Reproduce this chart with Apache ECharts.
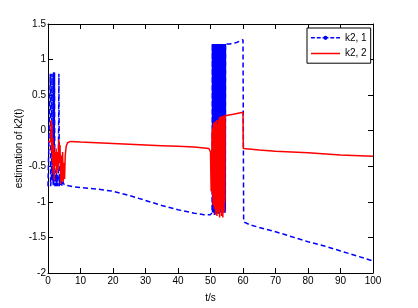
<!DOCTYPE html>
<html><head><meta charset="utf-8">
<script src="https://cdn.jsdelivr.net/npm/echarts@6/dist/echarts.min.js"></script>
<style>html,body{margin:0;padding:0;background:#fff}#c{width:418px;height:308px}</style>
</head><body><div id="c"></div>
<script>
// Series k2,1 (blue dashed)
const t1 = [0,0.6,0.7,0.8,1.1,1.2,1.3,1.5,1.6,1.7,1.8,1.9,2.0,2.1,2.3,2.4,2.6,2.7,2.9,3.0,3.2,3.35,3.5,3.7,3.9,4.1,4.3,4.6,5,6,8,10,15,20,25,30,35,40,45,48,50,50.5,
  50.60,50.65,50.70,50.75,50.80,50.85,50.90,50.95,51.00,51.05,51.10,51.15,51.20,51.25,51.30,51.35,51.40,51.45,51.50,51.55,
  51.60,51.65,51.70,51.75,51.80,51.85,51.90,51.95,52.00,52.05,52.10,52.15,52.20,52.25,52.30,52.35,52.40,52.45,52.50,52.55,
  52.60,52.65,52.70,52.75,52.80,52.85,52.90,52.95,53.00,53.05,53.10,53.15,53.20,53.25,53.30,53.35,53.40,53.45,53.50,53.55,
  53.60,53.65,53.70,53.75,53.80,53.85,53.90,53.95,54.00,54.05,54.10,54.15,54.20,54.25,54.30,54.35,54.40,54.45,54.50,54.55,54.60,
  55,56,57,58,59,60,60.2,62,65,70,75,80,85,90,95,100];
const k21 = [-0.78,-0.78,0.80,-0.78,-0.6,0.80,-0.7,-0.55,-0.78,0.82,-0.75,-0.6,0.82,-0.78,-0.6,-0.78,-0.55,-0.78,-0.62,-0.78,-0.58,0.80,-0.78,-0.65,-0.78,-0.62,-0.78,-0.72,-0.76,-0.77,-0.79,-0.80,-0.82,-0.85,-0.91,-0.98,-1.05,-1.11,-1.16,-1.18,-1.18,-1.15,
  1.22,-1.15,1.22,-1.05,1.22,-1.12,1.22,-0.98,1.22,-1.15,1.22,-1.08,1.22,-1.18,1.22,-1.0,1.22,-1.14,1.22,-1.06,
  1.22,-1.15,1.22,-0.95,1.22,-1.12,1.22,-1.03,1.22,-1.16,1.22,-1.08,1.22,-1.15,1.22,-0.99,1.22,-1.13,1.22,-1.05,
  1.22,-1.17,1.22,-1.02,1.22,-1.15,1.22,-1.09,1.22,-1.15,1.22,-0.97,1.22,-1.12,1.22,-1.04,1.22,-1.16,1.22,-1.07,
  1.22,-1.15,1.22,-1.0,1.22,-1.13,1.22,-1.06,1.22,-1.15,1.22,-1.02,1.22,-1.14,1.22,-1.08,1.22,-1.15,1.22,-1.1,1.22,
  1.22,1.22,1.23,1.24,1.26,1.28,-1.28,-1.32,-1.36,-1.42,-1.49,-1.56,-1.62,-1.69,-1.76,-1.83];
// Series k2,2 (red solid)
const t2 = [0,0.8,1.0,1.1,1.2,1.35,1.5,1.6,1.8,1.9,2.1,2.3,2.5,2.7,2.9,3.1,3.3,3.5,3.7,3.9,4.1,4.3,4.5,4.7,4.9,5.1,5.3,5.6,6,7,10,15,20,25,30,35,40,45,49.5,50.0,50.2,50.4,
  50.5,50.6,50.7,50.8,50.9,51.0,51.1,51.2,51.3,51.4,51.5,51.6,51.7,51.8,51.9,52.0,52.1,52.2,52.3,52.4,52.5,52.6,52.7,52.8,52.9,53.0,53.1,53.2,53.3,53.4,53.5,53.6,53.7,53.8,53.9,54.0,54.1,54.2,54.3,54.4,54.5,54.6,
  55,57,60,60.1,65,70,80,90,100];
const k22 = [-0.15,-0.15,0.15,-0.3,0.1,-0.45,-0.1,-0.6,-0.2,-0.7,-0.3,-0.5,-0.25,-0.6,-0.3,-0.55,-0.12,-0.45,-0.2,-0.75,-0.35,-0.7,-0.3,-0.72,-0.45,-0.68,-0.35,-0.22,-0.17,-0.15,-0.16,-0.17,-0.18,-0.19,-0.20,-0.21,-0.22,-0.23,-0.25,-0.3,-0.85,-0.4,
  0.0,-0.9,0.05,-1.05,0.1,-0.95,0.12,-1.1,0.1,-1.0,0.13,-1.18,0.12,-1.05,0.15,-1.2,0.1,-1.0,0.05,-1.15,0.15,-0.9,0.18,-1.22,0.2,-1.0,0.12,-1.1,0.2,-1.2,0.2,-1.05,0.21,-1.22,0.2,-0.95,0.21,-1.15,0.21,-1.0,0.21,0.2,
  0.21,0.23,0.26,-0.25,-0.27,-0.29,-0.31,-0.34,-0.36];
const seriesNames = ['k2, 1','k2, 2'];
const xName = 't/s';
const yName = 'estimation of k2(t)';
// t-range where the blue oscillation is so dense it reads as a solid block
const denseRange = [50.6, 54.6];

const font = 'Liberation Sans, Arial, sans-serif';
const fs = 10;
// legend glyphs (bbox 30 x 12)
const ext = 'M15,0L15.01,0L15,0.01Z M15,12L15.01,12L15,11.99Z ';
const iconDash = 'path://' + ext +
  'M0,5.25L4,5.25L4,6.75L0,6.75Z M6,5.25L10,5.25L10,6.75L6,6.75Z M12,5.25L18,5.25L18,6.75L12,6.75Z ' +
  'M20,5.25L24,5.25L24,6.75L20,6.75Z M26,5.25L30,5.25L30,6.75L26,6.75Z ' +
  'M17.2,6L16.6,7.6L15,8.2L13.4,7.6L12.8,6L13.4,4.4L15,3.8L16.6,4.4Z';
const iconSolid = 'path://' + ext + 'M0,5.2L30,5.2L30,6.8L0,6.8Z';

const blueAll = t1.map((t,i)=>[t,k21[i]]);
const blueDense = blueAll.filter(p => p[0] >= denseRange[0] && p[0] <= denseRange[1]);

const chart = echarts.init(document.getElementById('c'), null, {renderer:'canvas'});
const axisCommon = {
  axisLine:{show:true,onZero:false,lineStyle:{color:'#000',width:1}},
  axisTick:{show:true,inside:true,length:5,lineStyle:{color:'#000'}},
  splitLine:{show:false}
};
chart.setOption({
  animation:false,
  backgroundColor:'#fff',
  grid:{left:48,right:45,top:24,bottom:34,containLabel:false},
  legend:{
    orient:'vertical', left:307, top:28, padding:[4,4,4,4], itemGap:4,
    itemWidth:29, itemHeight:12,
    backgroundColor:'#fff', borderColor:'#000', borderWidth:1,
    textStyle:{fontFamily:font,fontSize:fs,color:'#000'},
    data:[
      {name:seriesNames[0],icon:iconDash,itemStyle:{color:'#0000ff',borderWidth:0}},
      {name:seriesNames[1],icon:iconSolid,itemStyle:{color:'#ff0000',borderWidth:0}}
    ]
  },
  xAxis:[
    Object.assign({type:'value',min:0,max:100,interval:10,position:'bottom',
      name:xName,nameLocation:'middle',nameGap:20,nameMoveOverlap:false,
      nameTextStyle:{fontFamily:font,fontSize:fs,color:'#000'},
      axisLabel:{fontFamily:font,fontSize:fs,color:'#000',margin:3}},axisCommon),
    Object.assign({type:'value',min:0,max:100,interval:10,position:'top',axisLabel:{show:false}},axisCommon)
  ],
  yAxis:[
    Object.assign({type:'value',min:-2,max:1.5,interval:0.5,position:'left',
      name:yName,nameLocation:'middle',nameGap:24,nameRotate:90,nameMoveOverlap:false,
      nameTextStyle:{fontFamily:font,fontSize:fs,color:'#000'},
      axisLabel:{fontFamily:font,fontSize:fs,color:'#000',margin:2}},axisCommon),
    Object.assign({type:'value',min:-2,max:1.5,interval:0.5,position:'right',axisLabel:{show:false}},axisCommon)
  ],
  series:[
    {name:seriesNames[0],type:'line',data:blueAll,symbol:'none',z:2,
     itemStyle:{color:'#0000ff'},
     lineStyle:{color:'#0000ff',width:1.5,type:[5,3]}},
    {name:seriesNames[0],type:'line',data:blueDense,symbol:'none',z:3,
     itemStyle:{color:'#0000ff'},
     lineStyle:{color:'#0000ff',width:1.5}},
    {name:seriesNames[1],type:'line',data:t2.map((t,i)=>[t,k22[i]]),symbol:'none',z:4,
     itemStyle:{color:'#ff0000'},
     lineStyle:{color:'#ff0000',width:1.5}}
  ]
});
</script></body></html>
